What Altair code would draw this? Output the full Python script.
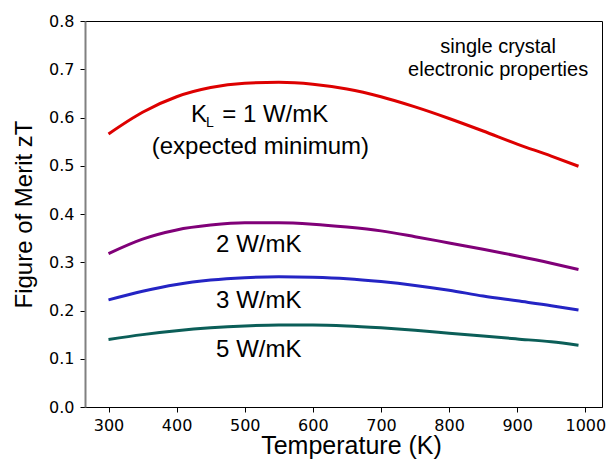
import altair as alt
import pandas as pd

# ---- data ----
temperature = [300, 350, 400, 450, 500, 550, 600, 650, 700, 750, 800, 850, 900, 950, 990]
zt_kl1 = [0.566, 0.611, 0.643, 0.662, 0.671, 0.673, 0.669, 0.659, 0.643, 0.622, 0.598, 0.572, 0.545, 0.520, 0.499]
zt_kl2 = [0.318, 0.348, 0.367, 0.377, 0.382, 0.382, 0.379, 0.373, 0.365, 0.353, 0.340, 0.327, 0.313, 0.298, 0.285]
zt_kl3 = [0.222, 0.240, 0.254, 0.263, 0.268, 0.270, 0.269, 0.266, 0.260, 0.252, 0.242, 0.230, 0.220, 0.210, 0.201]
zt_kl5 = [0.140, 0.150, 0.158, 0.164, 0.168, 0.170, 0.170, 0.168, 0.164, 0.159, 0.153, 0.147, 0.141, 0.135, 0.128]

series_names = ["KL1", "KL2", "KL3", "KL5"]
series_colors = ["#dd0000", "#800078", "#2424c4", "#0b5e58"]

x_ticks = [300, 400, 500, 600, 700, 800, 900, 1000]
y_ticks = [0.0, 0.1, 0.2, 0.3, 0.4, 0.5, 0.6, 0.7, 0.8]

# annotations (text, temperature, zT, font size, align)
ann_text = ["K", "L", "= 1 W/mK", "(expected minimum)", "2 W/mK", "3 W/mK", "5 W/mK",
            "single crystal", "electronic properties"]
ann_T = [421, 443, 467, 523, 458, 458, 458, 872, 872]
ann_zt = [0.605, 0.588, 0.605, 0.539, 0.336, 0.220, 0.119, 0.746, 0.698]
ann_size = [24, 14, 24, 24, 24, 24, 24, 20, 20]
ann_align = ["left", "left", "left", "center", "left", "left", "left", "center", "center"]

rows = []
for name, vals in zip(series_names, [zt_kl1, zt_kl2, zt_kl3, zt_kl5]):
    for t, v in zip(temperature, vals):
        rows.append({"T": t, "zT": v, "series": name})
df = pd.DataFrame(rows)

ann = pd.DataFrame({"text": ann_text, "T": ann_T, "zT": ann_zt,
                    "size": ann_size, "align": ann_align})

xscale = alt.Scale(domain=[265.5, 1024.5], nice=False, zero=False)
yscale = alt.Scale(domain=[0, 0.8], nice=False)

lines = alt.Chart(df).mark_line(strokeWidth=3, interpolate="monotone").encode(
    x=alt.X("T:Q", scale=xscale, title="Temperature (K)",
            axis=alt.Axis(values=x_ticks, format="d", grid=False, titleX=266, titleFontSize=25)),
    y=alt.Y("zT:Q", scale=yscale, title="Figure of Merit zT",
            axis=alt.Axis(values=y_ticks, format=".1f", grid=False)),
    color=alt.Color("series:N", scale=alt.Scale(domain=series_names, range=series_colors), legend=None),
    detail="series:N",
)

text_layers = []
for i in range(len(ann_text)):
    sub = ann.iloc[[i]]
    text_layers.append(
        alt.Chart(sub).mark_text(font="Liberation Sans", fontSize=ann_size[i], align=ann_align[i],
                                 baseline="middle", color="black").encode(
            x=alt.X("T:Q", scale=xscale),
            y=alt.Y("zT:Q", scale=yscale),
            text="text:N",
        )
    )

chart = alt.layer(lines, *text_layers).properties(
    width=517, height=386,
    autosize=alt.AutoSizeParams(type="none"),
    padding={"left": 85, "top": 21, "right": 7, "bottom": 52},
).configure_view(
    stroke="black", strokeWidth=1
).configure_axis(
    labelFont="DejaVu Sans", labelFontSize=16, labelColor="black",
    titleFont="Liberation Sans", titleFontSize=24, titleFontWeight="normal", titleColor="black",
    tickColor="black", tickSize=5, tickWidth=1, domainColor="black", domainWidth=1,
).configure_axisX(
    labelPadding=5, titlePadding=0,
).configure_axisY(
    labelPadding=6, titlePadding=12, domainColor="#808080", domainWidth=2,
)

chart.save("out.html", embed_options={"renderer": "svg", "actions": False})
